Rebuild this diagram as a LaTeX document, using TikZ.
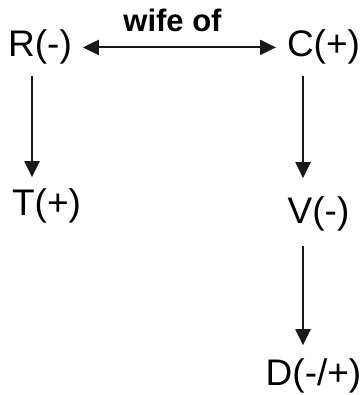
\documentclass[tikz,border=0pt]{standalone}
\usepackage{fontspec}
\setmainfont{Liberation Sans}
\usetikzlibrary{arrows.meta,positioning,calc}

\begin{document}
\begin{tikzpicture}[
  x=1pt,y=-1pt,
  >={Triangle[length=16pt,width=15pt]},
  person/.style={anchor=base,inner sep=0pt,outer sep=11pt,font=\fontsize{37}{40}\selectfont},
  rel/.style={anchor=base,inner sep=0pt,font=\fontsize{31}{36}\selectfont\bfseries},
  link/.style={->,line width=2pt,draw=black!90}
]
  \useasboundingbox (0,0) rectangle (362,395);

  \node[person] (r) at (40,57) {R(-)};
  \node[person] (c) at (323.5,57) {C(+)};
  \node[person] (t) at (46.5,215) {T(+)};
  \node[person] (v) at (318.5,223) {V(-)};
  \node[person] (d) at (313.5,385) {D(-/+)};

  \draw[link,<->] (r) -- (c);
  \node[rel] (wife) at (172.5,32) {wife of};

  \draw[link] ([xshift=-8pt]r.south) -- ([xshift=-8pt]r.south |- t.north);
  \draw[link,shorten >=7pt] ([xshift=-20.5pt]c.south) -- ([xshift=-20.5pt]c.south |- v.north);
  \draw[link,shorten <=4pt,shorten >=2pt] ([xshift=-15.5pt]v.south) -- ([xshift=-15.5pt]v.south |- d.north);
\end{tikzpicture}
\end{document}
